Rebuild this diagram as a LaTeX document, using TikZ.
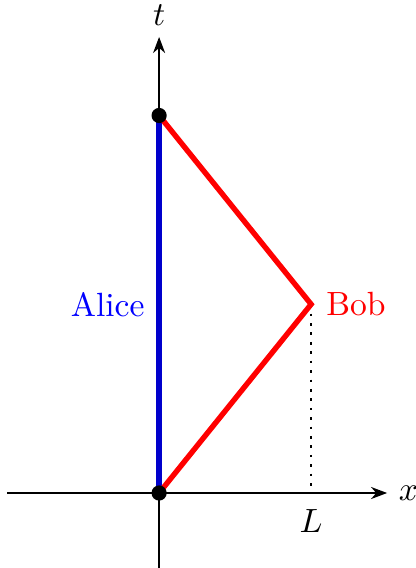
\documentclass[tikz,border=0pt]{standalone}
\usepackage{amsmath}
\usetikzlibrary{arrows.meta,calc}

\begin{document}
\begin{tikzpicture}[x=0.53cm,y=0.53cm,>=Stealth]
\useasboundingbox (-3.14,-1.48) rectangle (5.07,9.73);
\def\L{3}
\def\T{7.45}
\coordinate (O) at (0,0);
\coordinate (turn) at (\L,{\T/2});
\coordinate (meet) at (0,\T);
\coordinate (foot) at (\L,0);
\draw[->] (-3,0) -- (4.5,0) node[right] (xlab) {$x$};
\draw[->] (0,-1.5) -- (0,9) node[above] (tlab) {$t$};
\draw[dotted, thick] (turn) -- (foot);
\draw[ultra thick, blue!80!black] (O) -- (meet);
\draw[ultra thick, red] (O) -- (turn) -- (meet);
\fill (O) circle (0.15);
\fill (meet) circle (0.15);
\node[below] (Llab) at ($(foot)+(0,-0.1)$) {$L$};
\node[blue, left, xshift=-0.8pt] (alice) at (0,{\T/2}) {Alice};
\node[red, right, xshift=1pt] (bob) at (turn) {Bob};
\end{tikzpicture}
\end{document}
